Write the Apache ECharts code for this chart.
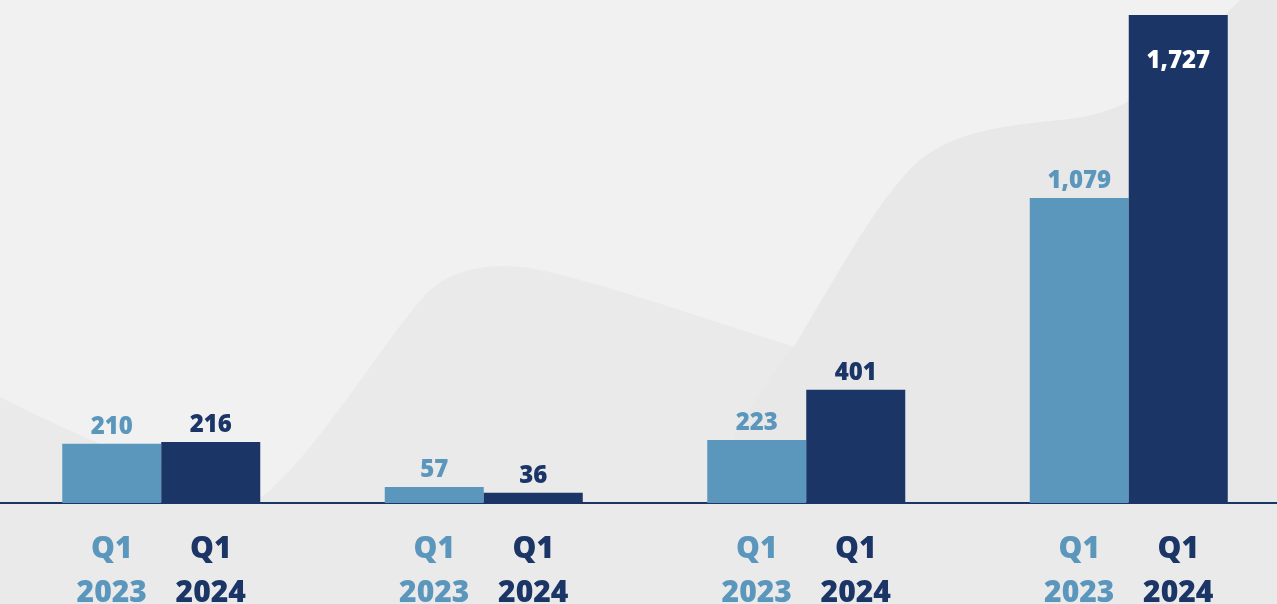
<!DOCTYPE html>
<html>
<head>
<meta charset="utf-8">
<title>Q1 2023 vs Q1 2024</title>
<script src="https://cdn.jsdelivr.net/npm/echarts@6/dist/echarts.min.js"></script>
<style>
  html, body { margin: 0; padding: 0; background: #f1f1f1; }
  #chart { width: 1277px; height: 604px; }
</style>
</head>
<body>
<div id="chart"></div>
<script>
// Four groups, each comparing the same quarter across two years
const groups = ['1', '2', '3', '4'];
const periodLabels = [['Q1', '2023'], ['Q1', '2024']];
const q1of2023 = [210, 57, 223, 1079];
const q1of2024 = [216, 36, 401, 1727];

const LIGHT = '#5b97bc';
const DARK = '#1a3566';
const FONT = '"Open Sans", "Noto Sans", sans-serif';
const WEIGHT = 800;

const fmt = v => Number(v).toLocaleString('en-US');

// tallest bar carries its value inside, in white
const maxIdx = q1of2024.indexOf(Math.max(...q1of2024));
const data2024 = q1of2024.map((v, i) => i === maxIdx
  ? { value: v, label: { position: 'insideTop', distance: 34, color: '#ffffff' } }
  : v);

// one axis label per group, split into the two periods under their bars
const axisText = () =>
  '{a|' + periodLabels[0][0] + '}{b|' + periodLabels[1][0] + '}\n' +
  '{a|' + periodLabels[0][1] + '}{b|' + periodLabels[1][1] + '}';

// background waves: chains of cubic bezier segments flattened into polygons
function waveShape(start, segments, closing) {
  const pts = [start];
  let p0 = start;
  segments.forEach(([c1, c2, p3]) => {
    for (let t = 1; t <= 24; t++) {
      const u = t / 24, m = 1 - u;
      pts.push([
        m * m * m * p0[0] + 3 * m * m * u * c1[0] + 3 * m * u * u * c2[0] + u * u * u * p3[0],
        m * m * m * p0[1] + 3 * m * m * u * c1[1] + 3 * m * u * u * c2[1] + u * u * u * p3[1]
      ]);
    }
    p0 = p3;
  });
  return pts.concat(closing);
}

const humpWave = waveShape([0, 397], [
  [[80, 437], [180, 482], [262, 497]],
  [[320, 450], [390, 330], [430, 290]],
  [[460, 265], [500, 262], [540, 270]],
  [[620, 288], [700, 318], [805, 350]]
], [[805, 604], [0, 604]]);

const rightWave = waveShape([675, 604], [
  [[700, 500], [740, 410], [795, 345]],
  [[840, 270], [880, 195], [920, 160]],
  [[955, 132], [1000, 126], [1060, 120]],
  [[1110, 115], [1140, 100], [1170, 70]]
], [[1240, 0], [1277, 0], [1277, 604]]);

const chart = echarts.init(document.getElementById('chart'), null, { renderer: 'canvas' });

chart.setOption({
  backgroundColor: '#f1f1f1',
  animation: false,
  graphic: [
    {
      type: 'polygon', z: -20, silent: true,
      shape: { points: humpWave },
      style: { fill: '#eaeaea' }
    },
    {
      type: 'polygon', z: -19, silent: true,
      shape: { points: rightWave },
      style: { fill: '#e8e8e8' }
    },
    {
      type: 'rect', z: -18, silent: true,
      shape: { x: 0, y: 503, width: 1277, height: 101 },
      style: { fill: '#eaeaea' }
    }
  ],
  // the last group runs slightly past the right edge of the page
  grid: { left: 0, top: 0, width: 1290, bottom: 101, containLabel: false, outerBoundsMode: 'none' },
  xAxis: {
    type: 'category',
    data: groups,
    axisTick: { show: false },
    axisLine: { show: true, lineStyle: { color: DARK, width: 2 } },
    axisLabel: {
      margin: 24,
      formatter: axisText,
      lineHeight: 44,
      rich: {
        a: { width: 99, align: 'center', color: LIGHT, fontSize: 30, fontWeight: WEIGHT, fontFamily: FONT, lineHeight: 44 },
        b: { width: 99, align: 'center', color: DARK, fontSize: 30, fontWeight: WEIGHT, fontFamily: FONT, lineHeight: 44 }
      }
    }
  },
  yAxis: {
    type: 'value', min: 0, max: 1780,
    show: false, splitLine: { show: false }
  },
  series: [
    {
      name: periodLabels[0].join(' '),
      type: 'bar',
      data: q1of2023,
      barWidth: 99,
      barGap: '0%',
      itemStyle: { color: LIGHT },
      label: {
        show: true, position: 'top', distance: 5,
        color: LIGHT, fontSize: 24, fontWeight: WEIGHT, fontFamily: FONT,
        formatter: p => fmt(p.value)
      }
    },
    {
      name: periodLabels[1].join(' '),
      type: 'bar',
      data: data2024,
      barWidth: 99,
      barGap: '0%',
      itemStyle: { color: DARK },
      label: {
        show: true, position: 'top', distance: 5,
        color: DARK, fontSize: 24, fontWeight: WEIGHT, fontFamily: FONT,
        formatter: p => fmt(p.value)
      }
    }
  ]
});
</script>
</body>
</html>
